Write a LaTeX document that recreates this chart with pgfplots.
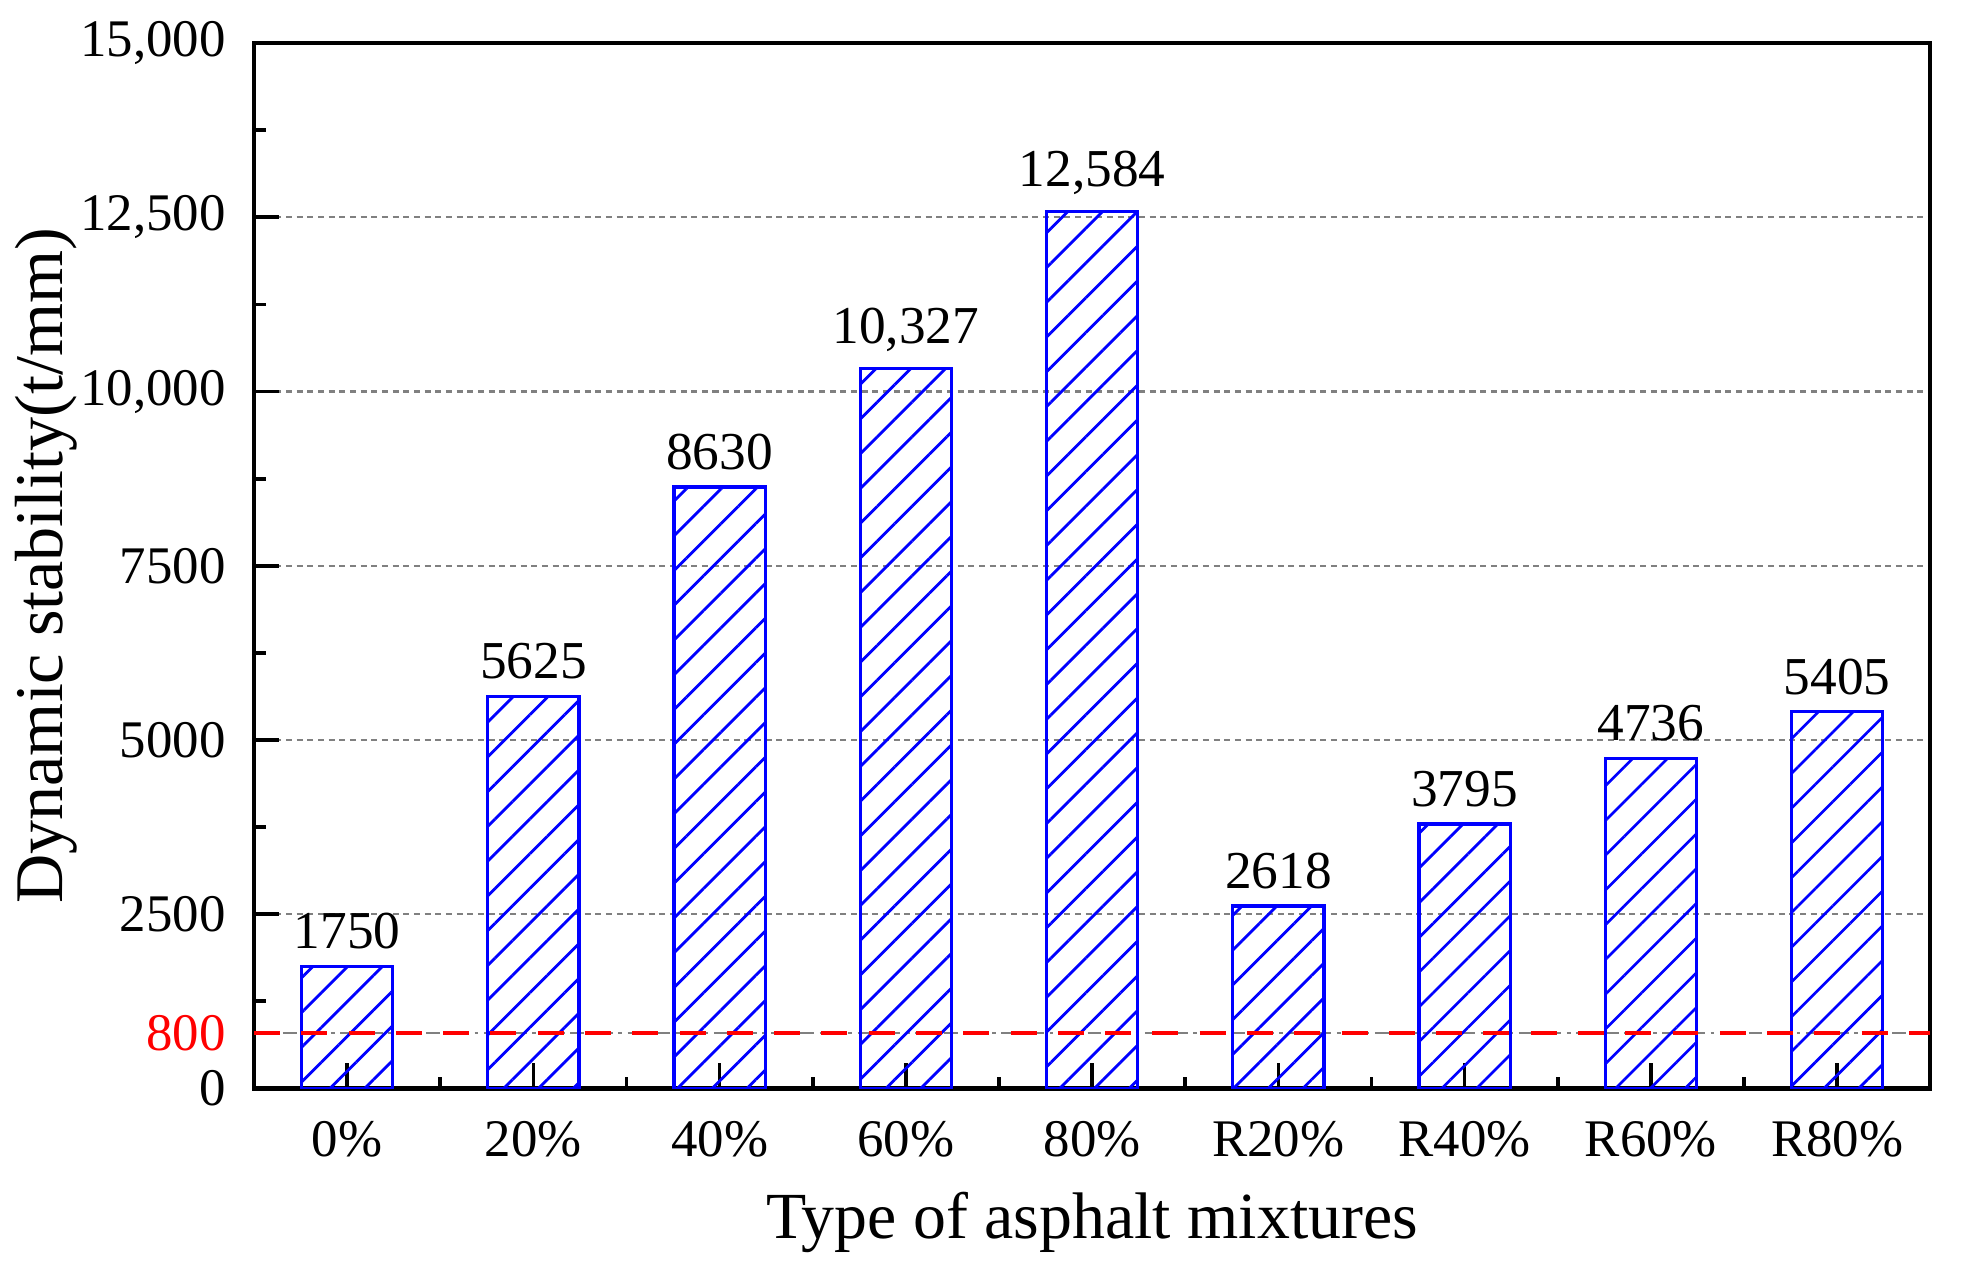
\documentclass[border=0pt]{standalone}
\usepackage{fontspec}
\setmainfont{Liberation Serif}
\usepackage{pgfplots}
\pgfplotsset{compat=1.18}
\usetikzlibrary{patterns.meta}

\begin{document}
\begin{tikzpicture}
\begin{axis}[
    scale only axis,
    width=361.6pt, height=225.5pt,
    xmin=-0.5, xmax=8.5,
    ymin=0, ymax=15000,
    xtick={0,...,8},
    xticklabels={0\%,20\%,40\%,60\%,80\%,R20\%,R40\%,R60\%,R80\%},
    minor x tick num=1,
    ytick={0,2500,...,15000},
    scaled y ticks=false,
    minor y tick num=1,
    extra y ticks={800},
    extra y tick style={
        yticklabel style={text=red},
        major tick length=0pt,
        grid=major,
        major grid style={gray, line width=0.5pt, dash pattern=on 3pt off 1.2pt on 0.8pt off 1.2pt},
    },
    tick align=inside,
    xtick pos=bottom, ytick pos=left,
    major tick length=5.4pt, minor tick length=2.5pt,
    tick style={black, line width=0.8pt},
    axis line style={line width=0.9pt},
    ymajorgrids,
    major grid style={gray, line width=0.5pt, dash pattern=on 1.3pt off 1pt},
    /pgf/number format/assume math mode=true,
    /pgf/number format/1000 sep={,},
    /pgf/number format/min exponent for 1000 sep=4,
    tick label style={font=\fontsize{11.4}{13}\selectfont},
    xticklabel style={yshift=-3.5pt},
    yticklabel style={xshift=-2.6pt},
    xlabel={Type of asphalt mixtures},
    ylabel={Dynamic stability(t/mm)},
    xlabel style={font=\fontsize{14.2}{16}\selectfont, at={(axis description cs:0.5,-0.1436)}, anchor=base},
    ylabel style={font=\fontsize{14.7}{16}\selectfont, at={(axis description cs:-0.114,0.5)}, anchor=base},
]

\addplot[
    ybar, bar width=0.49,
    draw=blue, line width=0.7pt,
    pattern={Lines[angle=45, distance=5.3pt, line width=0.6pt]},
    pattern color=blue,
    nodes near coords,
    every node near coord/.append style={text=black, font=\fontsize{11.5}{13}\selectfont},
] coordinates {
    (0, 1750)
    (1, 5625)
    (2, 8630)
    (3, 10327)
    (4, 12584)
    (5, 2618)
    (6, 3795)
    (7, 4736)
    (8, 5405)
};

% limit line
\addplot[sharp plot, red, line width=0.8pt, dash pattern=on 5.6pt off 4.6pt]
    coordinates {(-0.5, 800) (8.5, 800)};

\end{axis}
\pgfresetboundingbox
\path ([shift={(-54.8pt,-41.2pt)}]current axis.south west) rectangle ([shift={(8.8pt,9.3pt)}]current axis.north east);
\end{tikzpicture}
\end{document}
